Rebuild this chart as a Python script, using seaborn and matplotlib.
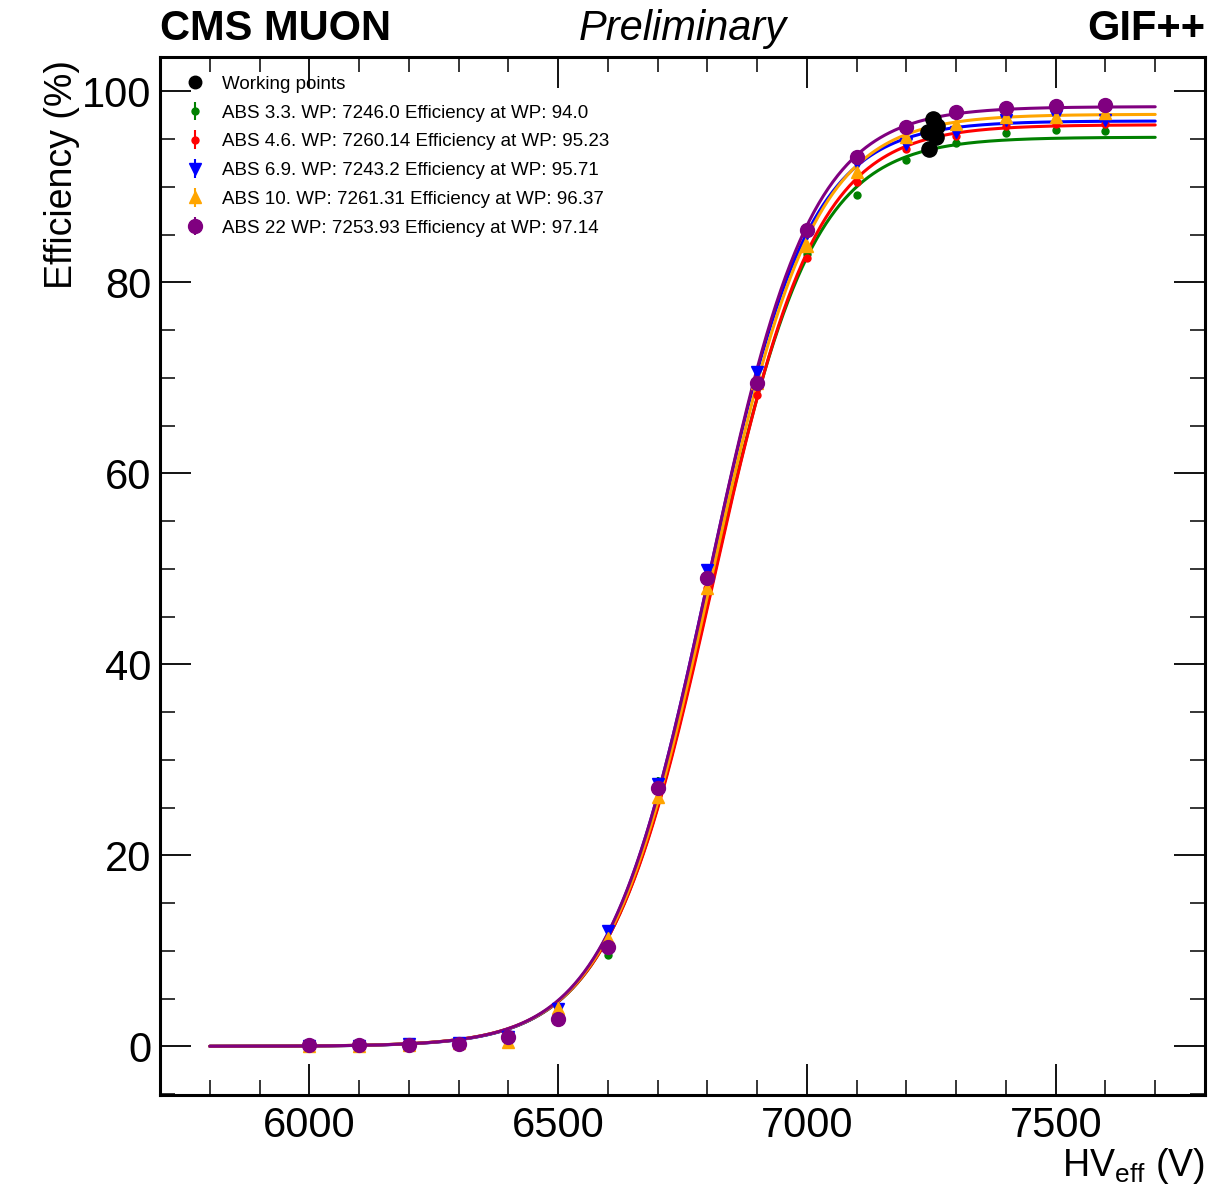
import numpy as np
import pandas as pd
import seaborn as sns
import matplotlib.pyplot as plt
from matplotlib.lines import Line2D
from matplotlib.ticker import MultipleLocator

# HV scan points (V)
hv = [6000, 6100, 6200, 6300, 6400, 6500, 6600, 6700, 6800, 6900,
      7000, 7100, 7200, 7300, 7400, 7500, 7600]

eff_abs33 = [0.0, 0.0, 0.1, 0.3, 1.0, 3.5, 9.6, 27.8, 49.0, 69.6, 83.0, 89.1, 92.8, 94.6, 95.6, 96.0, 95.8]
eff_abs46 = [0.0, 0.0, 0.1, 0.3, 0.9, 3.4, 10.5, 27.0, 48.0, 68.2, 82.5, 90.5, 94.0, 95.3, 96.4, 96.6, 96.6]
eff_abs69 = [0.0, 0.0, 0.2, 0.3, 1.0, 3.9, 12.1, 27.5, 49.9, 70.6, 85.2, 92.5, 94.5, 95.7, 97.0, 97.4, 97.0]
eff_abs10 = [0.0, 0.0, 0.1, 0.3, 0.4, 4.0, 11.3, 26.1, 48.0, 69.5, 83.8, 91.6, 95.2, 96.6, 97.3, 97.3, 97.7]
eff_abs22 = [0.1, 0.1, 0.1, 0.2, 1.0, 2.9, 10.4, 27.1, 49.0, 69.5, 85.5, 93.1, 96.3, 97.8, 98.3, 98.5, 98.6]

# sigmoid fit parameters: (eff max, lambda, HV50)
fit_abs33 = (95.2, 0.0097, 6806)
fit_abs46 = (96.5, 0.0096, 6810)
fit_abs69 = (96.9, 0.0099, 6800)
fit_abs10 = (97.6, 0.0097, 6807)
fit_abs22 = (98.4, 0.0098, 6803)

# working points from the legend
wp_hv = [7246.0, 7260.14, 7243.2, 7261.31, 7253.93]
wp_eff = [94.0, 95.23, 95.71, 96.37, 97.14]

labels = ["ABS 3.3.", "ABS 4.6.", "ABS 6.9.", "ABS 10.", "ABS 22"]
colors = ["green", "red", "blue", "orange", "purple"]
markers = ["o", "o", "v", "^", "o"]
msizes = [5, 5, 9, 9, 10]
series = [eff_abs33, eff_abs46, eff_abs69, eff_abs10, eff_abs22]
fits = [fit_abs33, fit_abs46, fit_abs69, fit_abs10, fit_abs22]

sns.set_style("ticks", {"axes.edgecolor": "black", "text.color": "black",
                        "axes.labelcolor": "black", "xtick.color": "black",
                        "ytick.color": "black"})
plt.rcParams["font.family"] = ["Liberation Sans", "DejaVu Sans"]
plt.rcParams["mathtext.fontset"] = "custom"
plt.rcParams["mathtext.rm"] = "Liberation Sans"

fig = plt.figure(figsize=(12.18, 11.87), dpi=100)
ax = fig.add_axes([0.1314, 0.0775, 0.8579, 0.8745])

# fit curves
hv_grid = np.linspace(5800, 7700, 400)
rows = []
for lab, (emax, lam, hv50) in zip(labels, fits):
    for x in hv_grid:
        rows.append({"hv": x, "eff": emax / (1 + np.exp(-lam * (x - hv50))), "chamber": lab})
curves = pd.DataFrame(rows)
sns.lineplot(data=curves, x="hv", y="eff", hue="chamber", palette=dict(zip(labels, colors)),
             linewidth=2.2, legend=False, ax=ax, zorder=2)

# measurements
handles = [Line2D([], [], marker="o", color="black", linestyle="none", markersize=9)]
ax.scatter(wp_hv, wp_eff, s=120, color="black", zorder=5)
for lab, c, m, ms, y in zip(labels, colors, markers, msizes, series):
    eb = ax.errorbar(hv, y, yerr=0.4, fmt=m, color=c, markersize=ms, elinewidth=1.5,
                     capsize=0, zorder=3)
    handles.append(eb)

leg_labels = ["Working points"] + [f"{lab} WP: {h} Efficiency at WP: {w}"
                                   for lab, h, w in zip(labels, wp_hv, wp_eff)]
ax.legend(handles, leg_labels, loc="upper left", frameon=False, fontsize=13.5,
          handletextpad=0.6, labelspacing=0.62, borderaxespad=0.5, borderpad=0.5,
          handlelength=1.7)

ax.set_xlim(5700, 7800)
ax.set_ylim(-5.1, 103.6)
ax.xaxis.set_major_locator(MultipleLocator(500))
ax.xaxis.set_minor_locator(MultipleLocator(100))
ax.yaxis.set_major_locator(MultipleLocator(20))
ax.yaxis.set_minor_locator(MultipleLocator(5))
ax.tick_params(which="both", direction="in", top=True, right=True, labelsize=30)
ax.tick_params(which="major", length=22, width=1.3)
ax.tick_params(axis="x", which="major", pad=8)
ax.tick_params(axis="y", which="major", pad=6)
ax.tick_params(which="minor", length=11, width=1.1)
for s in ax.spines.values():
    s.set_linewidth(2.2)

ax.set_xlabel(r"HV$_{\mathrm{eff}}$ (V)", fontsize=27, loc="right", labelpad=0)
ax.set_ylabel("Efficiency (%)", fontsize=27, loc="top")
ax.yaxis.set_label_coords(-0.077, 0.997)

ax.text(0.0, 1.008, "CMS MUON", transform=ax.transAxes, fontsize=30, fontweight="bold",
        ha="left", va="bottom")
ax.text(0.5, 1.008, "Preliminary", transform=ax.transAxes, fontsize=30, style="italic",
        ha="center", va="bottom")
ax.text(1.0, 1.008, "GIF++", transform=ax.transAxes, fontsize=30, fontweight="bold",
        ha="right", va="bottom")

fig.savefig("out.png", dpi=100)
